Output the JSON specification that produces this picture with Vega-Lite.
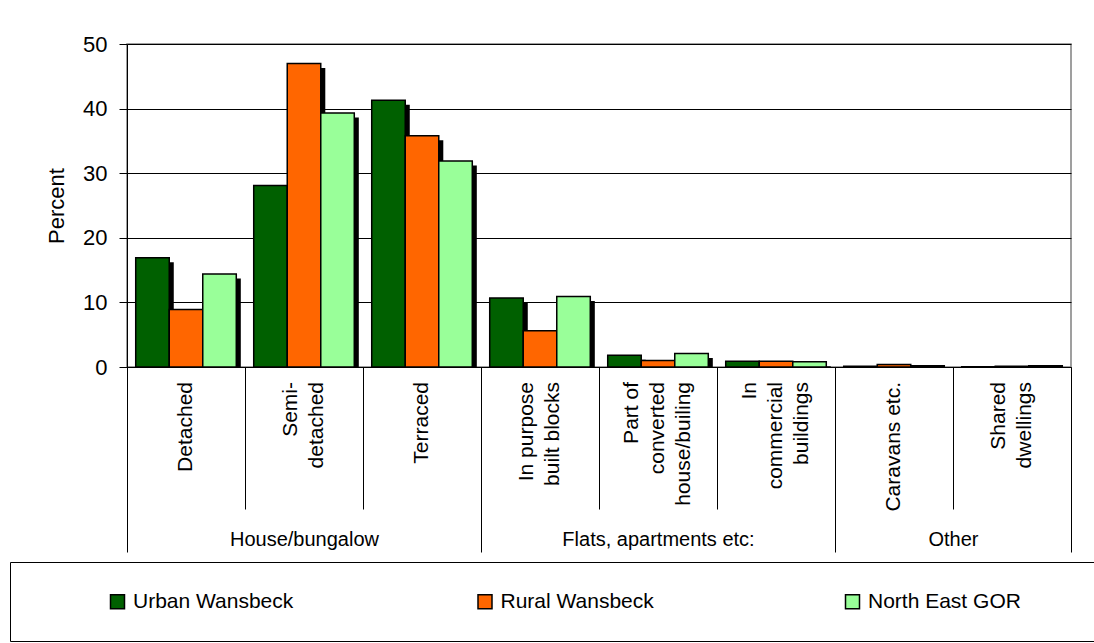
{
  "$schema": "https://vega.github.io/schema/vega-lite/v6.json",
  "width": 944,
  "height": 323,
  "autosize": "none",
  "padding": {"left": 127, "top": 44, "right": 23, "bottom": 276},
  "config": {
    "font": "Liberation Sans",
    "view": {"stroke": "#808080", "strokeWidth": 1.5},
    "axis": {"labelColor": "#000", "titleColor": "#000", "domainColor": "#000", "tickColor": "#000", "domainWidth": 1, "tickWidth": 1}
  },
  "datasets": {
    "shares": [
      {"group": "House/bungalow", "category": "Detached", "series": "Urban Wansbeck", "value": 16.9},
      {"group": "House/bungalow", "category": "Detached", "series": "Rural Wansbeck", "value": 8.9},
      {"group": "House/bungalow", "category": "Detached", "series": "North East GOR", "value": 14.4},
      {"group": "House/bungalow", "category": "Semi-|detached", "series": "Urban Wansbeck", "value": 28.1},
      {"group": "House/bungalow", "category": "Semi-|detached", "series": "Rural Wansbeck", "value": 47.0},
      {"group": "House/bungalow", "category": "Semi-|detached", "series": "North East GOR", "value": 39.3},
      {"group": "House/bungalow", "category": "Terraced", "series": "Urban Wansbeck", "value": 41.3},
      {"group": "House/bungalow", "category": "Terraced", "series": "Rural Wansbeck", "value": 35.8},
      {"group": "House/bungalow", "category": "Terraced", "series": "North East GOR", "value": 31.9},
      {"group": "Flats, apartments etc:", "category": "In purpose|built blocks", "series": "Urban Wansbeck", "value": 10.7},
      {"group": "Flats, apartments etc:", "category": "In purpose|built blocks", "series": "Rural Wansbeck", "value": 5.6},
      {"group": "Flats, apartments etc:", "category": "In purpose|built blocks", "series": "North East GOR", "value": 10.9},
      {"group": "Flats, apartments etc:", "category": "Part of|converted|house/builing", "series": "Urban Wansbeck", "value": 1.8},
      {"group": "Flats, apartments etc:", "category": "Part of|converted|house/builing", "series": "Rural Wansbeck", "value": 1.0},
      {"group": "Flats, apartments etc:", "category": "Part of|converted|house/builing", "series": "North East GOR", "value": 2.1},
      {"group": "Flats, apartments etc:", "category": "In|commercial|buildings", "series": "Urban Wansbeck", "value": 0.9},
      {"group": "Flats, apartments etc:", "category": "In|commercial|buildings", "series": "Rural Wansbeck", "value": 0.9},
      {"group": "Flats, apartments etc:", "category": "In|commercial|buildings", "series": "North East GOR", "value": 0.8},
      {"group": "Other", "category": "Caravans etc.", "series": "Urban Wansbeck", "value": 0.1},
      {"group": "Other", "category": "Caravans etc.", "series": "Rural Wansbeck", "value": 0.4},
      {"group": "Other", "category": "Caravans etc.", "series": "North East GOR", "value": 0.2},
      {"group": "Other", "category": "Shared|dwellings", "series": "Urban Wansbeck", "value": 0.05},
      {"group": "Other", "category": "Shared|dwellings", "series": "Rural Wansbeck", "value": 0.1},
      {"group": "Other", "category": "Shared|dwellings", "series": "North East GOR", "value": 0.2}
    ],
    "groups": [
      {"group": "House/bungalow", "start": 0, "end": 3},
      {"group": "Flats, apartments etc:", "start": 3, "end": 6},
      {"group": "Other", "start": 6, "end": 8}
    ]
  },
  "resolve": {"scale": {"x": "independent", "xOffset": "independent"}, "axis": {"x": "independent"}},
  "layer": [
    {
      "data": {"name": "shares"},
      "mark": {"type": "bar", "color": "#000", "yOffset": 4.5, "clip": true},
      "encoding": {
        "x": {"field": "category", "type": "nominal", "sort": null, "scale": {"paddingInner": 0, "paddingOuter": 0}, "axis": null},
        "xOffset": {"field": "series", "type": "nominal", "sort": ["Urban Wansbeck", "Rural Wansbeck", "North East GOR"], "scale": {"paddingInner": 0, "paddingOuter": 0.26, "align": 0.76}},
        "y": {"field": "value", "type": "quantitative", "scale": {"domain": [0, 50], "nice": false},
          "axis": {"values": [0, 10, 20, 30, 40, 50], "title": "Percent", "titleFontSize": 22, "titleFontWeight": "normal", "titlePadding": 14, "labelFontSize": 22, "labelPadding": 12, "tickSize": 8, "grid": true, "gridColor": "#000", "gridWidth": 1}}
      }
    },
    {
      "data": {"name": "shares"},
      "mark": {"type": "bar", "stroke": "#000", "strokeWidth": 1.5},
      "encoding": {
        "x": {"field": "category", "type": "nominal", "sort": null, "scale": {"paddingInner": 0, "paddingOuter": 0},
          "axis": {"orient": "bottom", "title": null, "labelExpr": "split(datum.label, '|')", "labelAngle": 270, "labelAlign": "right", "labelBaseline": "middle", "labelFontSize": 21, "labelLineHeight": 26, "labelPadding": -127.5,
            "labelOffset": {"condition": [{"test": "length(split(datum.value, '|')) == 3", "value": -26}, {"test": "length(split(datum.value, '|')) == 2", "value": -13}], "value": 0},
            "labelLimit": 0, "labelOverlap": false, "labelBound": false, "ticks": true, "tickSize": 142, "bandPosition": 0, "domain": true, "grid": false}},
        "xOffset": {"field": "series", "type": "nominal", "sort": ["Urban Wansbeck", "Rural Wansbeck", "North East GOR"], "scale": {"paddingInner": 0, "paddingOuter": 0.26}},
        "y": {"field": "value", "type": "quantitative", "scale": {"domain": [0, 50], "nice": false},
          "axis": {"values": [0, 10, 20, 30, 40, 50], "title": "Percent", "titleFontSize": 22, "titleFontWeight": "normal", "titlePadding": 14, "labelFontSize": 22, "labelPadding": 12, "tickSize": 8, "grid": true, "gridColor": "#000", "gridWidth": 1}},
        "color": {"field": "series", "type": "nominal", "sort": ["Urban Wansbeck", "Rural Wansbeck", "North East GOR"],
          "scale": {"domain": ["Urban Wansbeck", "Rural Wansbeck", "North East GOR"], "range": ["#006000", "#FF6600", "#99FF99"]},
          "legend": {"orient": "none", "legendX": -117, "legendY": 518, "direction": "horizontal", "title": " ", "titleOrient": "left", "titleFontSize": 1, "titlePadding": 68, "padding": 29, "strokeColor": "#000", "symbolType": "square", "symbolSize": 196, "symbolStrokeColor": "#000", "symbolStrokeWidth": 1.5, "symbolOpacity": 1, "labelFontSize": 21, "labelColor": "#000", "labelOffset": 5, "labelLimit": 0, "gridAlign": "all", "columnPadding": 124.5, "labelExpr": "datum.label + '\u00a0\u00a0\u00a0\u00a0\u00a0\u00a0\u00a0\u2800'"}}
      }
    },
    {
      "data": {"name": "groups"},
      "mark": {"type": "bar", "opacity": 0},
      "encoding": {
        "x": {"field": "start", "type": "quantitative", "scale": {"domain": [0, 8], "nice": false, "zero": false},
          "axis": {"orient": "bottom", "values": [0, 3, 6, 8], "tickSize": 185, "labels": false, "domain": false, "grid": false, "title": null}},
        "x2": {"field": "end"}
      }
    },
    {
      "data": {"name": "groups"},
      "mark": {"type": "bar", "opacity": 0},
      "encoding": {
        "x": {"field": "start", "type": "quantitative", "scale": {"domain": [0, 8], "nice": false, "zero": false},
          "axis": {"orient": "bottom", "values": [1.5, 4.5, 7], "ticks": false, "domain": false, "grid": false, "title": null, "labelExpr": "datum.value == 1.5 ? 'House/bungalow' : datum.value == 4.5 ? 'Flats, apartments etc:' : 'Other'", "labelFontSize": 20, "labelBaseline": "top", "labelAlign": "center", "labelAngle": 0, "labelPadding": 162, "labelLimit": 0, "labelOverlap": false, "labelBound": false, "labelFlush": false}},
        "x2": {"field": "end"}
      }
    }
  ]
}
